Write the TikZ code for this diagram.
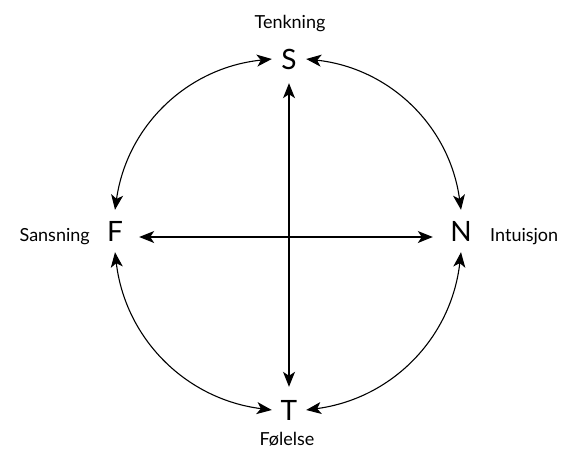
\documentclass[tikz,border=0pt]{standalone}
\usepackage{fontspec}
\setmainfont{Lato}
\usepackage{tikz}
\usetikzlibrary{arrows.meta}

\begin{document}
\begin{tikzpicture}[x=1pt,y=-1pt,
  fn/.style={font=\fontsize{28}{28}\selectfont,inner sep=0pt,minimum width=34pt,minimum height=42pt},
  lbl/.style={font=\fontsize{18}{18}\selectfont,inner sep=0pt},
  link/.style={line width=1.1pt,{Stealth[length=15pt,width=12pt,inset=4pt]}-{Stealth[length=15pt,width=12pt,inset=4pt]}}]
\useasboundingbox (0,0) rectangle (569,450);
% the four functions
\node[fn] (S) at (289,59) {S};
\node[fn] (F) at (115,231) {F};
\node[fn] (N) at (461,231) {N};
\node[fn] (T) at (289,410) {T};
% their names
\node[lbl,anchor=base] (tenk) at (290,28) {Tenkning};
\node[lbl,anchor=base] (fol) at (287,445) {Følelse};
\node[lbl,anchor=base east] (sans) at (90,241) {Sansning};
\node[lbl,anchor=base west] (intu) at (490,241) {Intuisjon};
% axes
\draw[link,shorten <=3pt,shorten >=2pt] (S.south) -- (T.north);
\draw[link,shorten <=7pt,shorten >=11pt] ([yshift=-6pt]F.east) -- ([yshift=-6pt]N.west);
% circle
\foreach \a/\b in %
{S.west/F.north,F.south/T.west,T.east/N.south,N.north/S.east} {
   \draw[link] (\a) to[bend right=38] (\b);
}
\end{tikzpicture}
\end{document}
